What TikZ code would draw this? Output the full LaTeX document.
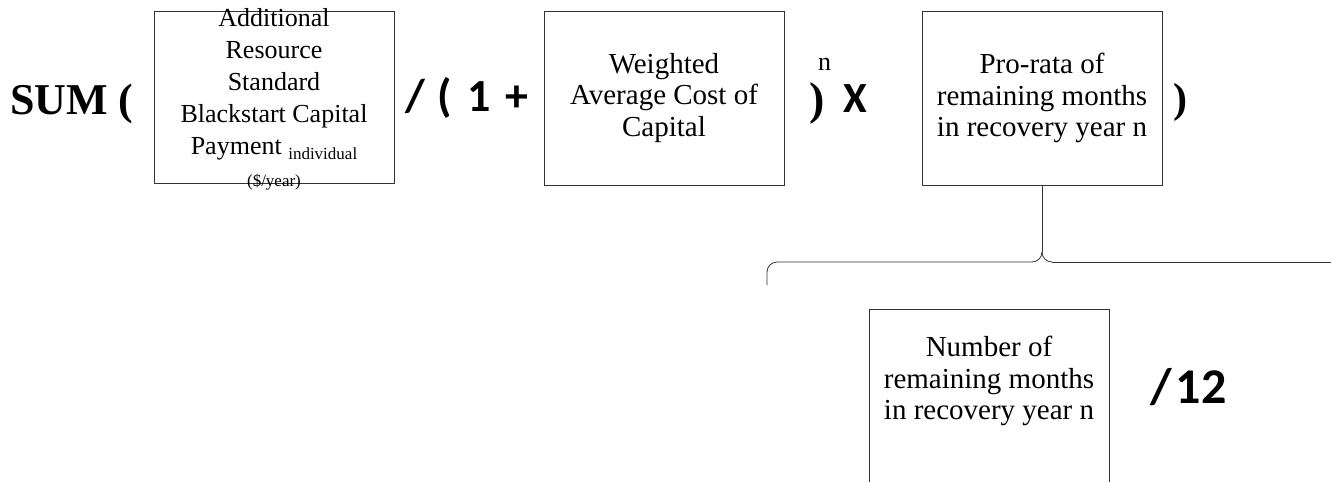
\documentclass[tikz,border=0pt]{standalone}
\usepackage{fontspec}
\setmainfont{Liberation Serif}
\newfontfamily\calib{Carlito}
\begin{document}
\begin{tikzpicture}[x=1pt,y=-1pt,
  thinline/.style={draw=black!80, line width=0.8pt},
  box/.style={thinline, minimum width=240pt, inner sep=0pt, align=center, font=\fontsize{29}{31.5}\selectfont},
  serifop/.style={inner sep=0pt, anchor=base west, font=\fontsize{44}{48}\selectfont\bfseries},
  sansop/.style={inner sep=0pt, anchor=base west, font=\calib\bfseries\fontsize{46}{50}\selectfont},
  plaintext/.style={inner sep=0pt, align=center, font=\fontsize{29}{31.5}\selectfont}]
\useasboundingbox (0,0) rectangle (1331,482);
\clip (0,0) rectangle (1331,482);

% boxes
\node[box, minimum height=172pt] (b1) at (274,97) {};
\node[plaintext, font=\fontsize{26}{32}\selectfont] (t1) at (274,99)
  {Additional\\Resource\\Standard\\Blackstart Capital\\Payment \raisebox{-5pt}{\fontsize{17}{20}\selectfont individual}\\{\fontsize{17}{20}\selectfont (\$/year)}};
\node[box, minimum height=174pt] (b2) at (664,98) {Weighted\\Average Cost of\\Capital};
\node[box, minimum height=174pt] (b3) at (1042,98) {Pro-rata of\\remaining months\\in recovery year n};
\node[box, minimum height=200pt, anchor=north] (b4) at (989,309) {};
\node[plaintext] (t4) at (989,381) {Number of\\remaining months\\in recovery year n};

% operators
\node[serifop] (sum) at (10,114) {SUM (};
\node[sansop] (div1) at (405,111) {/\hspace{13pt}(\hspace{15pt}1\hspace{15pt}+};
\node[serifop, font=\fontsize{46}{50}\selectfont\bfseries] (close1) at (809,114) {)};
\node[inner sep=0pt, anchor=base west, font=\fontsize{26}{28}\selectfont] (expn) at (818,70) {n};
\node[sansop, font=\calib\bfseries\fontsize{43}{46}\selectfont] (times) at (843,112) {X};
\node[serifop, font=\fontsize{42}{46}\selectfont\bfseries] (close2) at (1173,112) {)};
\node[sansop, font=\calib\bfseries\fontsize{50}{54}\selectfont] (div12) at (1150,403) {/\hspace{4pt}12};

% brace
\coordinate (cusp) at (1042,252);
\coordinate (cl) at (1032,262);
\coordinate (cr) at (1052,262);
\coordinate (bl) at (767,285);
\coordinate (br) at (1345,262);
\draw[thinline] (b3.south) -- (cusp);
\draw[thinline] (cusp) .. controls (1042,258) and (1037,262) .. (cl);
\draw[thinline] (cusp) .. controls (1042,258) and (1047,262) .. (cr);
\draw[thinline, rounded corners=10pt] (cl) -- (767,262) -- (bl);
\draw[thinline] (cr) -- (br);
\end{tikzpicture}
\end{document}
